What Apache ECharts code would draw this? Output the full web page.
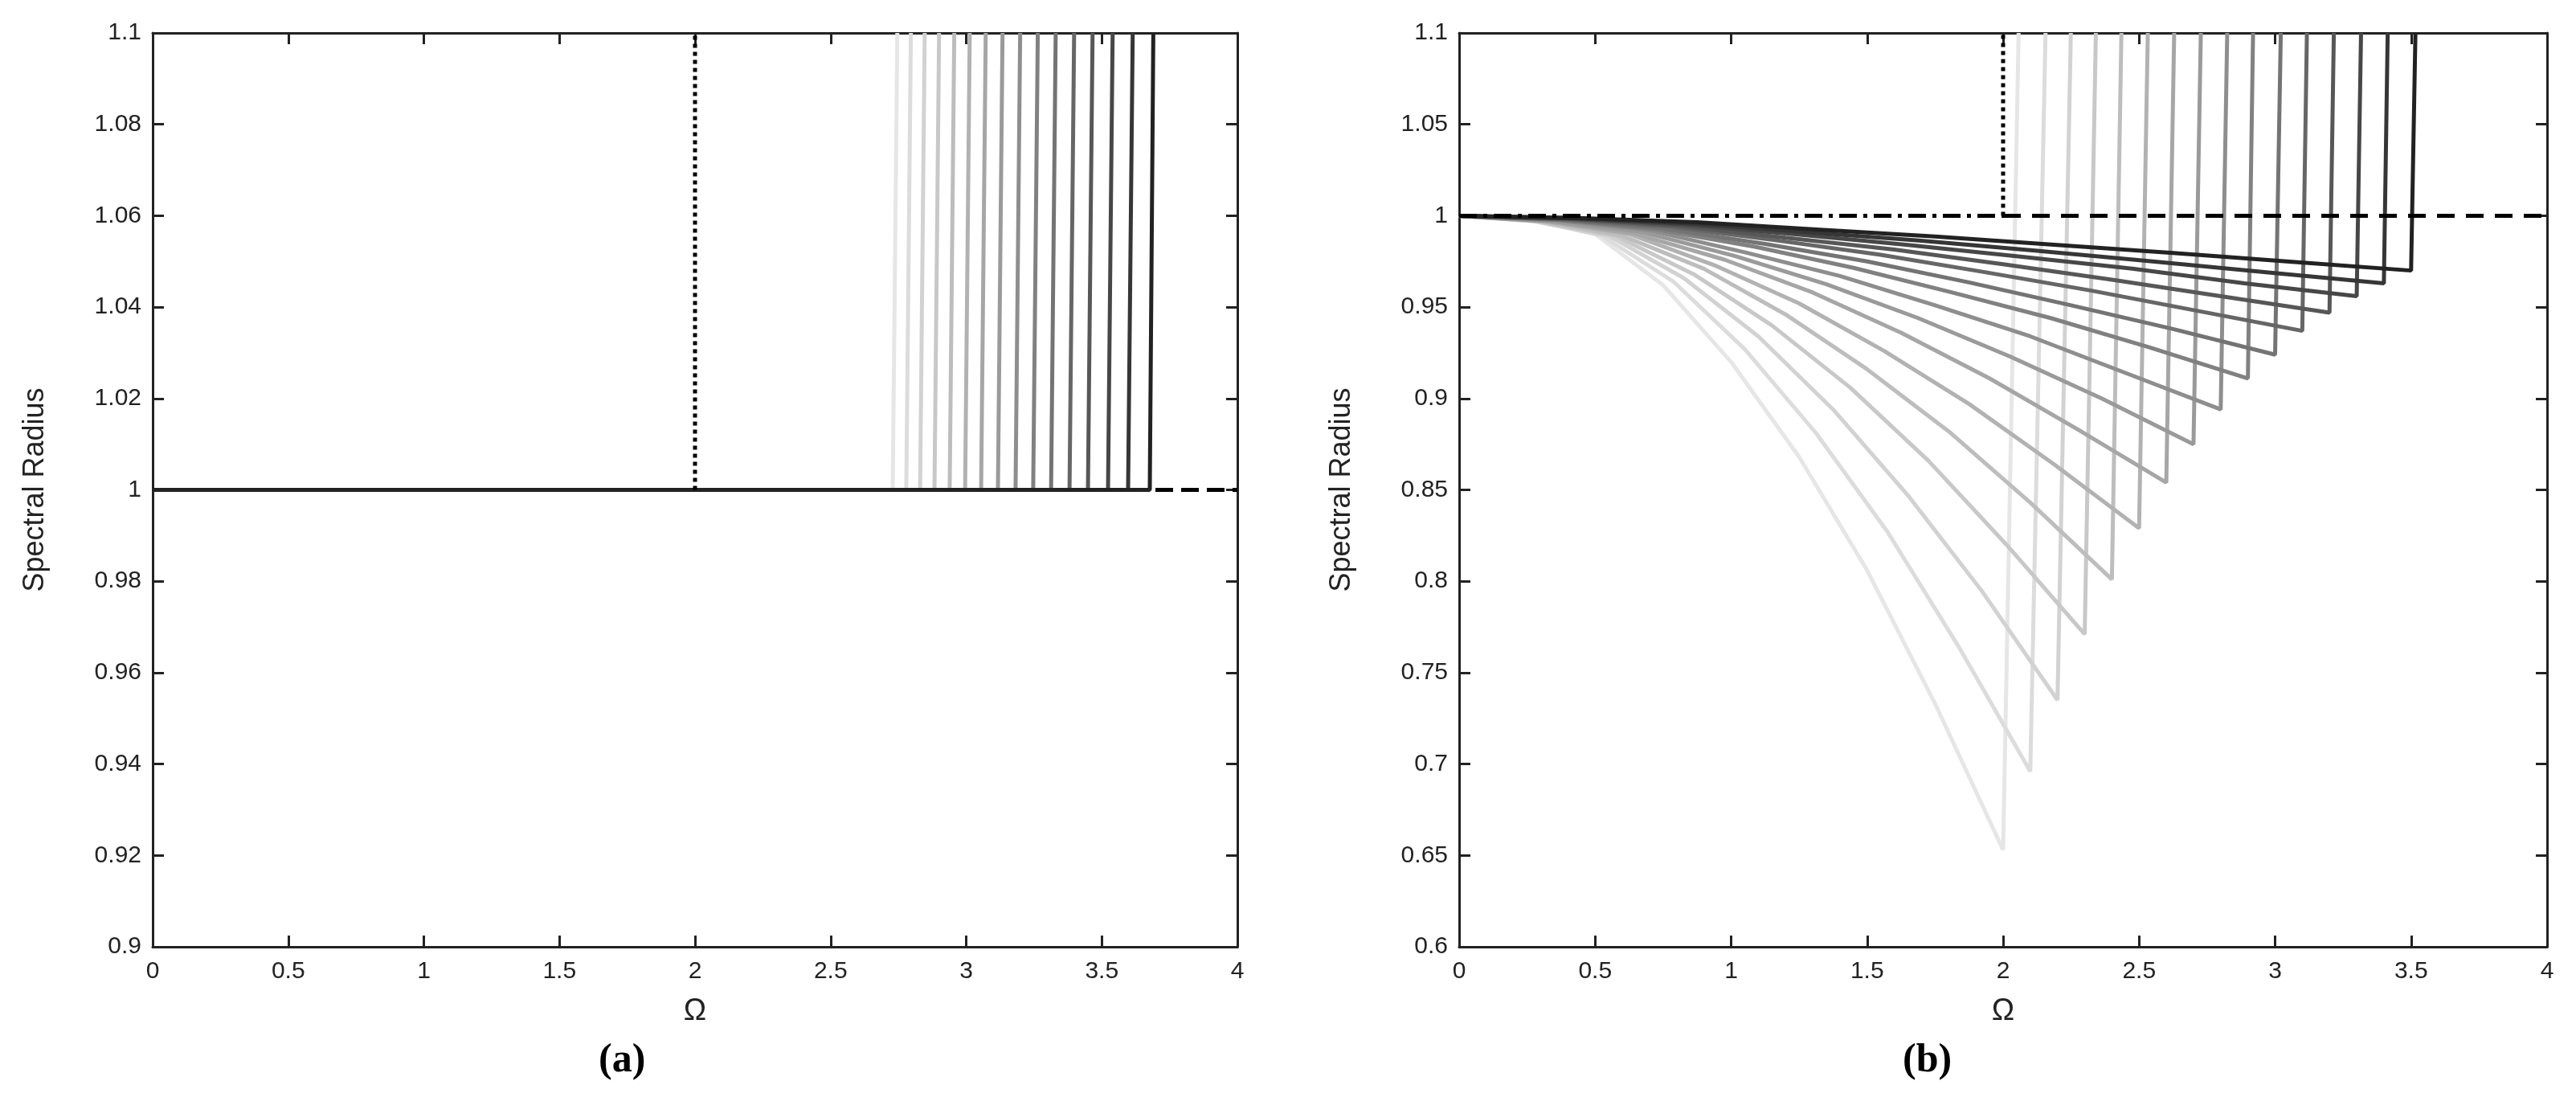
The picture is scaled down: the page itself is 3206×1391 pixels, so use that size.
<!DOCTYPE html>
<html><head><meta charset="utf-8">
<script src="https://cdn.jsdelivr.net/npm/echarts@6/dist/echarts.min.js"></script>
<style>html,body{margin:0;padding:0;background:#fff}#c{width:3206px;height:1391px}</style>
</head><body><div id="c"></div>
<script>
// Panel (a): jump positions (bottom x, top x)
const aJumpBottom = [2.729,2.779,2.830,2.883,2.939,2.996,3.055,3.117,3.182,3.247,3.313,3.381,3.449,3.523,3.597,3.677];
const aJumpTop    = [2.746,2.796,2.847,2.900,2.956,3.013,3.072,3.134,3.199,3.264,3.330,3.398,3.466,3.540,3.614,3.690];
// Panel (b): curve end x, top x after jump, and y at t=0..1 step 1/8 of [0,xk]
const bEnd = [2.0,2.1,2.2,2.3,2.4,2.5,2.6,2.7,2.8,2.9,3.0,3.1,3.2,3.3,3.4,3.5];
const bTop = [2.057,2.156,2.249,2.341,2.435,2.532,2.629,2.727,2.824,2.919,3.021,3.117,3.216,3.316,3.414,3.516];
const bY = [
 [1,.998,.990,.962,.920,.868,.806,.733,.653],
 [1,.998,.989,.964,.927,.881,.827,.764,.696],
 [1,.997,.989,.966,.934,.894,.847,.794,.735],
 [1,.997,.989,.968,.940,.906,.866,.820,.771],
 [1,.997,.989,.971,.946,.916,.882,.843,.801],
 [1,.997,.990,.973,.952,.926,.897,.864,.829],
 [1,.997,.990,.976,.958,.936,.911,.883,.854],
 [1,.997,.991,.978,.9625,.944,.923,.900,.875],
 [1,.9975,.992,.980,.967,.951,.934,.914,.894],
 [1,.9977,.9925,.983,.9715,.958,.944,.928,.911],
 [1,.9978,.993,.9846,.975,.9635,.951,.938,.924],
 [1,.998,.994,.9866,.9786,.969,.959,.948,.937],
 [1,.9983,.9946,.988,.9815,.9735,.965,.956,.947],
 [1,.9984,.9952,.9898,.984,.9776,.971,.963,.956],
 [1,.9986,.9958,.9911,.9863,.9808,.975,.969,.963],
 [1,.9988,.9964,.9925,.9886,.9841,.9796,.9748,.970]];
const grays = ['#e6e6e6','#dcdcdc','#d2d2d2','#c8c8c8','#bdbdbd','#b2b2b2','#a6a6a6','#9a9a9a','#8e8e8e','#818181','#747474','#666666','#575757','#474747','#363636','#222222'];

const font = 'Liberation Sans';
const axCol = '#222';
function xAx(grid, pos){
  return {type:'value',gridIndex:grid,position:pos,min:0,max:4,interval:0.5,
    axisLine:{onZero:false,lineStyle:{color:axCol,width:3}},
    axisTick:{inside:true,length:14,lineStyle:{color:axCol,width:3}},
    axisLabel:{show:pos==='bottom',color:'#222',fontSize:30,fontFamily:font,margin:16},
    splitLine:{show:false},
    name:pos==='bottom'?'Ω':'',nameLocation:'middle',nameGap:62,
    nameTextStyle:{fontSize:38,fontFamily:font,color:'#222'}};
}
function yAx(grid,pos,min,max,iv){
  return {type:'value',gridIndex:grid,position:pos,min:min,max:max,interval:iv,
    axisLine:{onZero:false,lineStyle:{color:axCol,width:3}},
    axisTick:{inside:true,length:14,lineStyle:{color:axCol,width:3}},
    axisLabel:{show:pos==='left',color:'#222',fontSize:30,fontFamily:font,margin:14},
    splitLine:{show:false},
    name:pos==='left'?'Spectral Radius':'',nameLocation:'middle',nameGap:pos==='left'?(grid===0?128:128):0,
    nameTextStyle:{fontSize:36,fontFamily:font,color:'#222'}};
}
const series=[];
function line(xi,yi,data,color,type,w,z){
  series.push({type:'line',xAxisIndex:xi,yAxisIndex:yi,data:data,symbol:'none',silent:true,z:z||2,
    lineStyle:{color:color,width:w||5,type:type||'solid'}});
}
// Panel a
line(0,0,[[0,1],[4,1]],'#000',[22,10],5,1);
line(0,0,[[2,1],[2,1.1]],'#000','dotted',5,3);
for(let i=0;i<aJumpBottom.length;i++){
  line(0,0,[[0,1],[aJumpBottom[i],1],[aJumpTop[i],1.1]],grays[i],'solid',5,2);
}
// Panel b
line(2,2,[[0,1],[2,1]],'#000',[22,8,5,8],5,3);
line(2,2,[[2,1],[4,1]],'#000',[22,14],5,3);
line(2,2,[[2,1],[2,1.1]],'#000','dotted',5,3);
for(let i=0;i<bEnd.length;i++){
  const xk=bEnd[i], n=bY[i].length-1;
  const pts=bY[i].map((y,j)=>[xk*j/n,y]);
  pts.push([bTop[i],1.1]);
  line(2,2,pts,grays[i],'solid',5,2);
}
const chart=echarts.init(document.getElementById('c'));
chart.setOption({
  animation:false,backgroundColor:'#fff',
  grid:[{left:190,right:1666,top:41,bottom:213},{left:1816,right:36,top:41,bottom:213}],
  xAxis:[xAx(0,'bottom'),xAx(0,'top'),xAx(1,'bottom'),xAx(1,'top')],
  yAxis:[yAx(0,'left',0.9,1.1,0.02),yAx(0,'right',0.9,1.1,0.02),yAx(1,'left',0.6,1.1,0.05),yAx(1,'right',0.6,1.1,0.05)],
  graphic:[
    {type:'text',left:745,top:1295,style:{text:'(a)',font:'bold 50px Liberation Serif',fill:'#000'}},
    {type:'text',left:2368,top:1295,style:{text:'(b)',font:'bold 50px Liberation Serif',fill:'#000'}}
  ],
  series:series
});
</script></body></html>
